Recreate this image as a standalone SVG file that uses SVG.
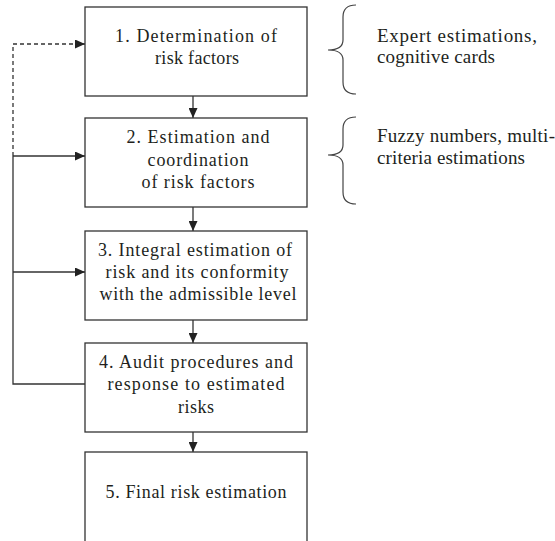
<svg xmlns="http://www.w3.org/2000/svg" width="555" height="541" viewBox="0 0 555 541">
<defs>
<style>
.box{fill:#fff;stroke:#333;stroke-width:1.3}
.t{font-family:'Liberation Serif','DejaVu Serif',serif;font-size:18px;fill:#221f1c;text-anchor:middle}
.r{font-family:'Liberation Serif','DejaVu Serif',serif;font-size:19px;fill:#221f1c}
.ln{fill:none;stroke:#333;stroke-width:1.3}
.dash{stroke-dasharray:4 3}
.brace{fill:none;stroke:#444;stroke-width:1.2}
</style>
<marker id="ah" markerUnits="userSpaceOnUse" markerWidth="10" markerHeight="9" refX="10" refY="4.5" orient="auto">
<path d="M0,0 L10,4.5 L0,9 z" fill="#222"/>
</marker>
</defs>
<rect width="555" height="541" fill="#fff"/>
<g id="connectors">
<line class="ln" x1="193" y1="96" x2="193" y2="118" marker-end="url(#ah)"/>
<line class="ln" x1="193" y1="207" x2="193" y2="231" marker-end="url(#ah)"/>
<line class="ln" x1="193" y1="320" x2="193" y2="343" marker-end="url(#ah)"/>
<line class="ln" x1="193" y1="432" x2="193" y2="452" marker-end="url(#ah)"/>
<path class="ln dash" d="M13,156 L13,44 L85,44" marker-end="url(#ah)"/>
<path class="ln" d="M85,384 L13,384 L13,156"/>
<line class="ln" x1="13" y1="156" x2="85" y2="156" marker-end="url(#ah)"/>
<line class="ln" x1="13" y1="272" x2="85" y2="272" marker-end="url(#ah)"/>
</g>
<g id="node1">
<rect class="box" x="85" y="7" width="222" height="89"/>
<text class="t"><tspan x="196" y="42" textLength="162" lengthAdjust="spacing">1. Determination of</tspan><tspan x="197" y="64" textLength="84" lengthAdjust="spacing">risk factors</tspan></text>
</g>
<g id="node2">
<rect class="box" x="85" y="118" width="222" height="89"/>
<text class="t"><tspan x="198" y="143" textLength="143" lengthAdjust="spacing">2. Estimation and</tspan><tspan x="198" y="166" textLength="101" lengthAdjust="spacing">coordination</tspan><tspan x="198" y="188" textLength="113" lengthAdjust="spacing">of risk factors</tspan></text>
</g>
<g id="node3">
<rect class="box" x="85" y="231" width="222" height="89"/>
<text class="t"><tspan x="195" y="256" textLength="194" lengthAdjust="spacing">3. Integral estimation of</tspan><tspan x="197" y="278" textLength="183" lengthAdjust="spacing">risk and its conformity</tspan><tspan x="198" y="300" textLength="197" lengthAdjust="spacing">with the admissible level</tspan></text>
</g>
<g id="node4">
<rect class="box" x="85" y="343" width="222" height="89"/>
<text class="t"><tspan x="196" y="368" textLength="194" lengthAdjust="spacing">4. Audit procedures and</tspan><tspan x="196" y="390" textLength="177" lengthAdjust="spacing">response to estimated</tspan><tspan x="196" y="413" textLength="36" lengthAdjust="spacing">risks</tspan></text>
</g>
<g id="node5">
<rect class="box" x="85" y="452" width="222" height="110"/>
<text class="t"><tspan x="196" y="498" textLength="181" lengthAdjust="spacing">5. Final risk estimation</tspan></text>
</g>
<g id="note1">
<path class="brace" d="M356,5 Q343,5 343,17 L343,40 Q343,50 328,50 Q343,50 343,60 L343,82 Q343,94 356,94"/>
<text class="r"><tspan x="377" y="42" textLength="160" lengthAdjust="spacing">Expert estimations,</tspan><tspan x="377" y="63" textLength="118" lengthAdjust="spacing">cognitive cards</tspan></text>
</g>
<g id="note2">
<path class="brace" d="M356,117 Q343,117 343,129 L343,145 Q343,155 328,155 Q343,155 343,165 L343,192 Q343,204 356,204"/>
<text class="r"><tspan x="377" y="142" textLength="178" lengthAdjust="spacing">Fuzzy numbers, multi-</tspan><tspan x="377" y="164" textLength="148" lengthAdjust="spacing">criteria estimations</tspan></text>
</g>
</svg>
